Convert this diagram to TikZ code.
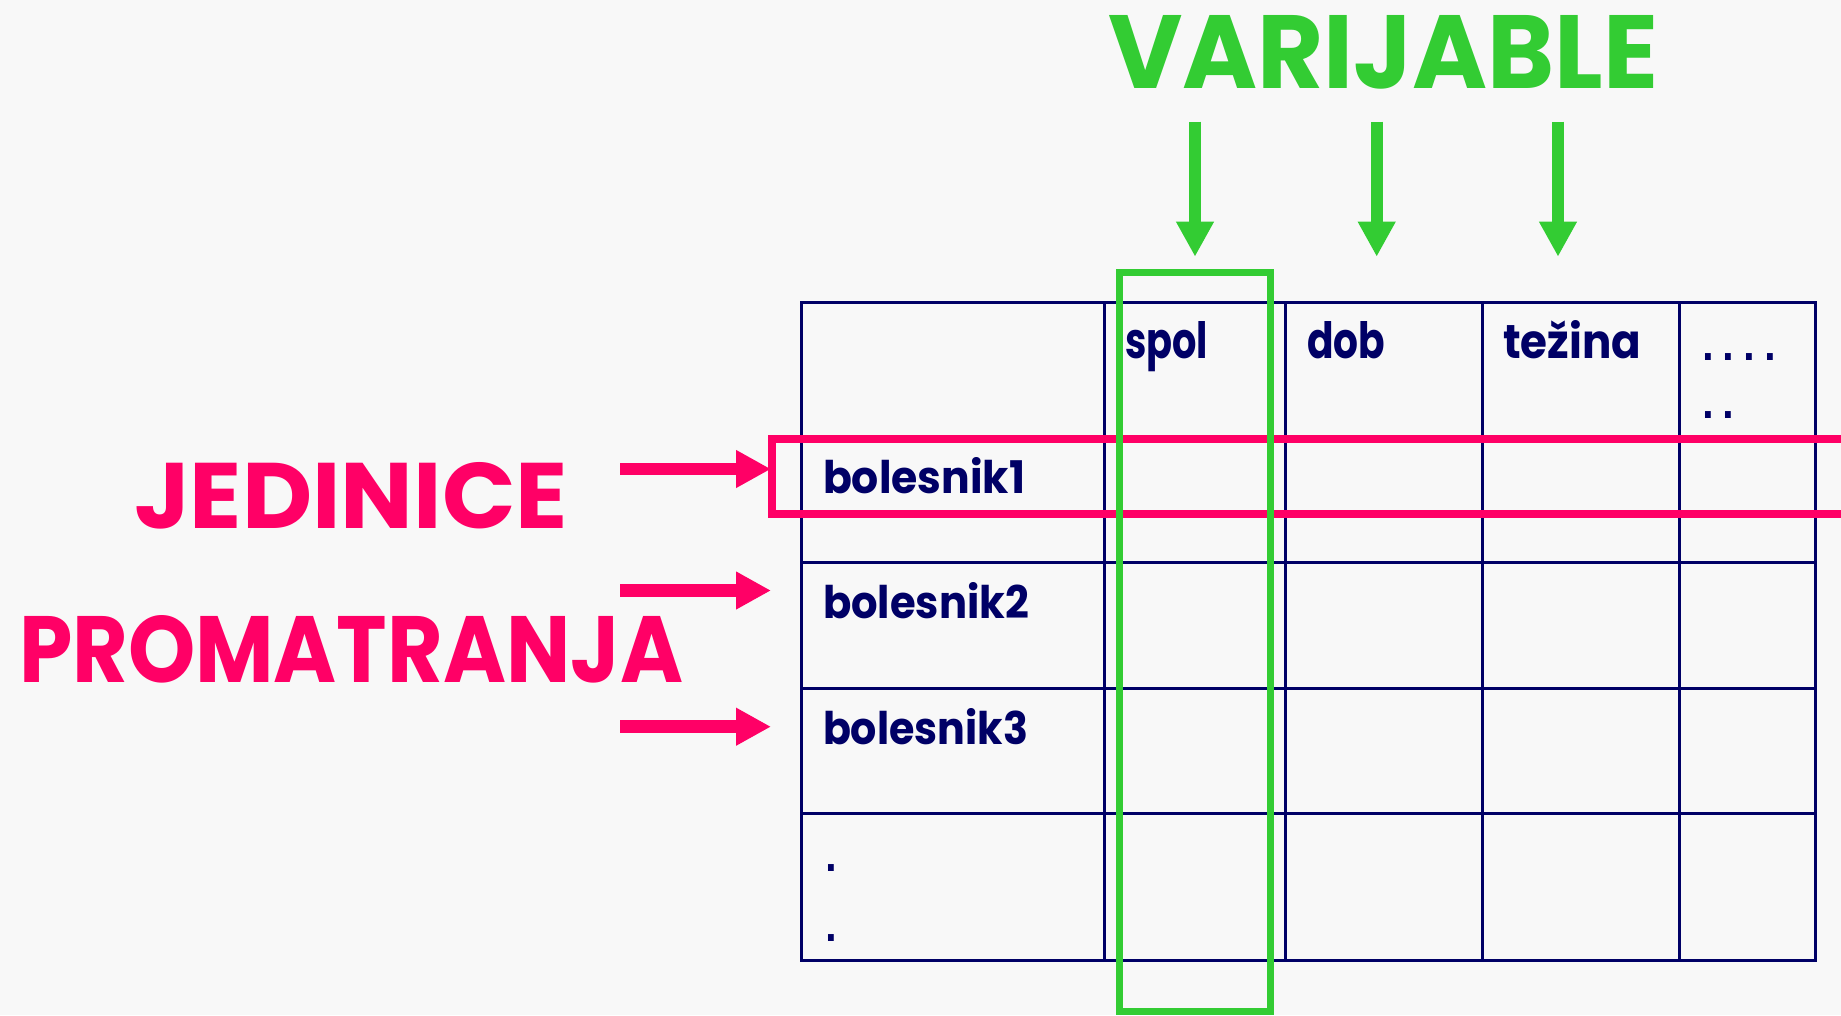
\documentclass[tikz,border=0pt]{standalone}
\usepackage{fontspec}
\usepackage{graphicx}
\usetikzlibrary{arrows.meta}
\newfontfamily\labelfont{Poppins}
\newfontfamily\dotfont{DejaVu Sans}[LetterSpace=5.2]
\definecolor{bgcol}{HTML}{F8F8F8}
\definecolor{navy}{HTML}{000066}
\definecolor{rowpink}{HTML}{FF0066}
\definecolor{colgreen}{HTML}{33CC33}
% set a word into a box of the given width and height (in pt)
\newcommand\fitto[3]{\resizebox{#1pt}{#2pt}{#3}}

\begin{document}
\begin{tikzpicture}[x=1pt,y=-1pt,
  txt/.style={inner sep=0pt, outer sep=0pt, anchor=base west},
  cell/.style={txt, text=navy, font=\labelfont\bfseries},
  bigword/.style={txt, font=\labelfont\bfseries},
  dots/.style={txt, text=navy, font=\dotfont\fontsize{56}{56}\selectfont},
  gridline/.style={navy, line width=3pt},
  pinkarrow/.style={rowpink, line width=12.5pt, -{Triangle[length=35pt,width=35.5pt]}},
  greenarrow/.style={colgreen, line width=11.7pt, -{Triangle[length=35pt,width=35.4pt]}},
]
\useasboundingbox (0,0) rectangle (1841,1015);
\fill[bgcol] (0,0) rectangle (1841,1015);

% headings
\node[bigword, text=colgreen] (varijable) at (1108,88) {\fitto{550}{73}{VARIJABLE}};
\node[bigword, text=rowpink] (jedinice) at (134,528) {\fitto{434}{66}{JEDINICE}};
\node[bigword, text=rowpink] (promatranja) at (19,682) {\fitto{664}{67}{PROMATRANJA}};

% data table grid
\draw[gridline] (801.7,302.7) rectangle (1815,960.3);
\foreach \x in {1104,1285.7,1482,1679}
  \draw[gridline] (\x,302.7) -- (\x,960.3);
\foreach \y in {439,562.7,688,813.3}
  \draw[gridline] (801.7,\y) -- (1815,\y);

% column headers
\node[cell] (spol) at (1125,358) {\fitto{83}{37}{spol}};
\node[cell] (dob) at (1307,358) {\fitto{78}{37}{dob}};
\node[cell] (tezina) at (1503,358) {\fitto{138}{38}{težina}};
\node[dots] (more1) at (1699.1,360.5) {....};
\node[dots] (more2) at (1699.1,418.5) {..};

% row labels
\node[cell] (b1) at (823,493) {\fitto{202}{36}{bolesnik1}};
\node[cell] (b2) at (823,618) {\fitto{206}{36}{bolesnik2}};
\node[cell] (b3) at (823,744) {\fitto{205}{36}{bolesnik3}};
\node[dots] (etc1) at (822.8,871.8) {.};
\node[dots] (etc2) at (822.8,941.8) {.};

% highlighted row (open to the right)
\draw[rowpink, line width=8pt] (1841,439) -- (771.5,439) -- (771.5,514) -- (1841,514);

% highlighted column
\draw[colgreen, line width=7pt] (1119.5,272.5) rectangle (1270.5,1011.5);

% arrows pointing at the rows
\coordinate (r1s) at (620,469);
\coordinate (r1e) at (771,469);
\coordinate (r2s) at (620,590.5);
\coordinate (r2e) at (771,590.5);
\coordinate (r3s) at (620,726.7);
\coordinate (r3e) at (771,726.7);
\draw[pinkarrow] (r1s) -- (r1e);
\draw[pinkarrow] (r2s) -- (r2e);
\draw[pinkarrow] (r3s) -- (r3e);

% arrows pointing at the columns
\coordinate (c1s) at (1195,121.7);
\coordinate (c1e) at (1195,256.7);
\coordinate (c2s) at (1376.7,121.7);
\coordinate (c2e) at (1376.7,256.7);
\coordinate (c3s) at (1558,121.7);
\coordinate (c3e) at (1558,256.7);
\draw[greenarrow] (c1s) -- (c1e);
\draw[greenarrow] (c2s) -- (c2e);
\draw[greenarrow] (c3s) -- (c3e);
\end{tikzpicture}
\end{document}
